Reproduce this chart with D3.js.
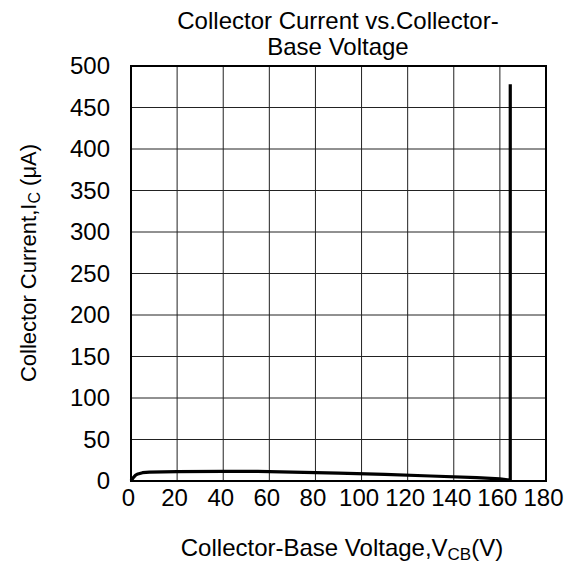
<!DOCTYPE html>
<html><head><meta charset="utf-8">
<script src="https://cdn.jsdelivr.net/npm/d3@7"></script>
<style>body{margin:0;background:#fff}svg{display:block}text{font-family:"Liberation Sans",Arial,sans-serif;fill:#000}</style>
</head><body>
<script>
const xTicks = [0,20,40,60,80,100,120,140,160,180];
const yTicks = [0,50,100,150,200,250,300,350,400,450,500];
const vcb = [0,1,2,3,5,8,20,40,55,70,90,110,130,150,160,164.2,164.5,164.5];
const ic  = [0,4,7,8.5,10,10.8,11.3,11.7,11.5,10.8,9.5,8,6,4,2.5,1.2,1,478];

const W=578,H=566, L=131, R=546, T=66, B=481;
const svg=d3.select("body").append("svg").attr("width",W).attr("height",H);
const x=d3.scaleLinear().domain([0,180]).range([L,R]);
const y=d3.scaleLinear().domain([0,500]).range([B,T]);

const g=svg.append("g");
g.selectAll(".vg").data(xTicks).join("line").attr("x1",d=>x(d)).attr("x2",d=>x(d)).attr("y1",T).attr("y2",B).attr("stroke","#222").attr("stroke-width",1);
g.selectAll(".hg").data(yTicks).join("line").attr("y1",d=>y(d)).attr("y2",d=>y(d)).attr("x1",L).attr("x2",R).attr("stroke","#222").attr("stroke-width",1);

const xAxis=svg.append("g").attr("transform",`translate(0,${B})`).call(d3.axisBottom(x).tickValues(xTicks).tickSize(0).tickPadding(8));
xAxis.select(".domain").remove();
xAxis.selectAll("text").style("font-size","24px").attr("dx","-3");
const yAxis=svg.append("g").attr("transform",`translate(${L},0)`).call(d3.axisLeft(y).tickValues(yTicks).tickSize(0).tickPadding(21));
yAxis.select(".domain").remove();
yAxis.selectAll("text").style("font-size","24px");

svg.append("rect").attr("x",L).attr("y",T).attr("width",R-L).attr("height",B-T).attr("fill","none").attr("stroke","#000").attr("stroke-width",2);

const pts=vcb.map((v,i)=>[v,ic[i]]);
svg.append("path").datum(pts).attr("d",d3.line().x(d=>x(d[0])).y(d=>y(d[1]))).attr("fill","none").attr("stroke","#000").attr("stroke-width",3.2).attr("stroke-linejoin","round");

svg.append("text").attr("x",338).attr("y",29).attr("text-anchor","middle").style("font-size","24px").text("Collector Current vs.Collector-");
svg.append("text").attr("x",338).attr("y",55).attr("text-anchor","middle").style("font-size","24px").text("Base Voltage");

const xt=svg.append("text").attr("x",342).attr("y",556).attr("text-anchor","middle").style("font-size","24px");
xt.append("tspan").text("Collector-Base Voltage,V");
xt.append("tspan").attr("dy",4).style("font-size","17px").text("CB");
xt.append("tspan").attr("dy",-4).text("(V)");

const yt=svg.append("text").attr("transform","translate(36,263) rotate(-90)").attr("text-anchor","middle").style("font-size","22px");
yt.append("tspan").text("Collector Current,I");
yt.append("tspan").attr("dy",4).style("font-size","16px").text("C");
yt.append("tspan").attr("dy",-4).text(" (μA)");
</script>
</body></html>
